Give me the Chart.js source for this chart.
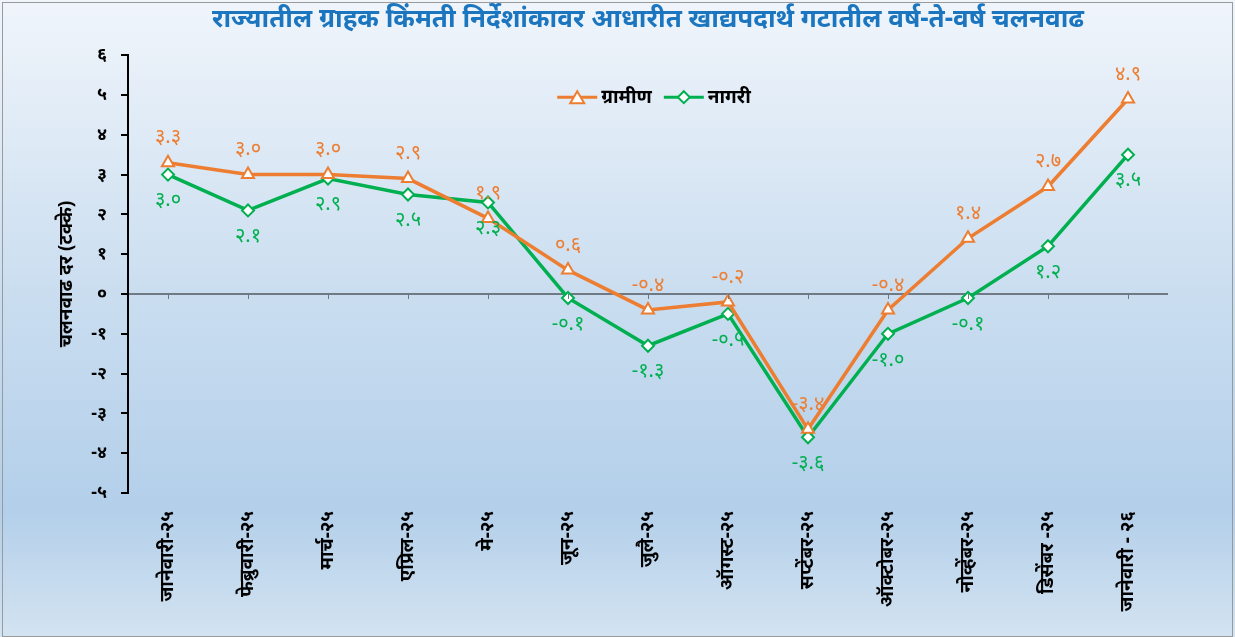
<!DOCTYPE html>
<html>
<head>
<meta charset="utf-8">
<script src="https://cdn.jsdelivr.net/npm/chart.js@4.4.1/dist/chart.umd.min.js"></script>
<style>
body { margin: 0; background: #fff; }
#wrap { width: 1235px; height: 637px; }
</style>
</head>
<body>
<div id="wrap"><canvas id="lineChart"></canvas></div>
<script>
const months = ['जानेवारी-२५', 'फेब्रुवारी-२५', 'मार्च-२५', 'एप्रिल-२५', 'मे-२५', 'जून-२५', 'जुलै-२५',
    'ऑगस्ट-२५', 'सप्टेंबर-२५', 'ऑक्टोबर-२५', 'नोव्हेंबर-२५', 'डिसेंबर -२५', 'जानेवारी - २६'];
const rural = [3.3, 3.0, 3.0, 2.9, 1.9, 0.6, -0.4, -0.2, -3.4, -0.4, 1.4, 2.7, 4.9];
const urban = [3.0, 2.1, 2.9, 2.5, 2.3, -0.1, -1.3, -0.5, -3.6, -1.0, -0.1, 1.2, 3.5];
const seriesNames = ['ग्रामीण', 'नागरी'];
const yMin = -5;
const yMax = 6;

const chartTitle = 'राज्यातील ग्राहक किंमती निर्देशांकावर आधारीत खाद्यपदार्थ गटातील वर्ष-ते-वर्ष चलनवाढ';
const yTitle = 'चलनवाढ दर (टक्के)';

const FONT = '"Noto Sans", "Noto Sans Devanagari", "Lohit Devanagari", sans-serif';
const ORANGE = '#ed7d31';
const GREEN = '#00b050';

const devaDigits = '०१२३४५६७८९';
function toDeva(str)
{
    return String(str).replace(/[0-9]/g, d => devaDigits[d]);
}

// background gradient + thin frame
const background = {
    id: 'background',
    beforeDraw(chart) {
        const ctx = chart.ctx;
        const g = ctx.createLinearGradient(0, 0, 0, chart.height);
        g.addColorStop(0, '#f0f5fb');
        g.addColorStop(0.45, '#cbdef0');
        g.addColorStop(0.8, '#b3cfea');
        g.addColorStop(1, '#d3e3f1');
        ctx.save();
        ctx.fillStyle = g;
        ctx.fillRect(0, 0, chart.width, chart.height);
        ctx.strokeStyle = '#9a9a9a';
        ctx.lineWidth = 1;
        ctx.strokeRect(2.5, 2.5, chart.width - 5, chart.height - 3);
        ctx.restore();
    }
};

// small ticks hanging off the zero line
const zeroTicks = {
    id: 'zeroTicks',
    afterDraw(chart) {
        const ctx = chart.ctx;
        const x = chart.scales.x;
        const y0 = chart.scales.y.getPixelForValue(0);
        ctx.save();
        ctx.strokeStyle = '#6f7780';
        ctx.lineWidth = 1;
        for (let i = 0; i < months.length; i++) {
            const px = Math.round(x.getPixelForValue(i)) + 0.5;
            ctx.beginPath();
            ctx.moveTo(px, y0);
            ctx.lineTo(px, y0 + 5);
            ctx.stroke();
        }
        ctx.restore();
    }
};

// value labels: rural above, urban below
const pointLabels = {
    id: 'pointLabels',
    afterDatasetsDraw(chart) {
        const ctx = chart.ctx;
        chart.data.datasets.forEach((ds, i) => {
            const meta = chart.getDatasetMeta(i);
            const above = i === 0;
            ctx.save();
            ctx.font = '20px ' + FONT;
            ctx.fillStyle = ds.borderColor;
            ctx.textAlign = 'center';
            ctx.textBaseline = 'middle';
            meta.data.forEach((pt, j) => {
                ctx.fillText(toDeva(ds.data[j].toFixed(1)), pt.x, above ? pt.y - 25 : pt.y + 26);
            });
            ctx.restore();
        });
    }
};

// legend drawn inside the plot, centred near the top
const innerLegend = {
    id: 'innerLegend',
    afterDraw(chart) {
        const ctx = chart.ctx;
        const area = chart.chartArea;
        const lineW = 40;
        const gap = 12;
        ctx.save();
        ctx.font = 'bold 19px ' + FONT;
        const widths = chart.data.datasets.map(ds => lineW + 4 + ctx.measureText(ds.label).width);
        const total = widths.reduce((a, b) => a + b, 0) + gap;
        let x = (area.left + area.right) / 2 - total / 2 + 6;
        const y = area.top + 42;
        chart.data.datasets.forEach((ds, i) => {
            ctx.strokeStyle = ds.borderColor;
            ctx.lineWidth = 3;
            ctx.beginPath();
            ctx.moveTo(x, y);
            ctx.lineTo(x + lineW, y);
            ctx.stroke();
            const cx = x + lineW / 2;
            ctx.fillStyle = '#fff';
            ctx.lineWidth = 2;
            ctx.beginPath();
            if (ds.pointStyle === 'triangle') {
                ctx.moveTo(cx, y - 6); ctx.lineTo(cx + 7, y + 6); ctx.lineTo(cx - 7, y + 6);
            } else {
                ctx.moveTo(cx, y - 6); ctx.lineTo(cx + 6, y); ctx.lineTo(cx, y + 6); ctx.lineTo(cx - 6, y);
            }
            ctx.closePath();
            ctx.fill();
            ctx.stroke();
            ctx.fillStyle = '#000';
            ctx.textBaseline = 'middle';
            ctx.fillText(ds.label, x + lineW + 4, y);
            x += widths[i] + gap;
        });
        ctx.restore();
    }
};

const line = document.getElementById('lineChart');
new Chart(line, {
    type: 'line',
    data: {
        labels: months,
        datasets: [{
            label: seriesNames[0],
            data: rural,
            borderColor: ORANGE,
            backgroundColor: '#fff',
            borderWidth: 3.5,
            pointStyle: 'triangle',
            pointRadius: 7,
            pointBorderWidth: 2,
            tension: 0,
        },
        {
            label: seriesNames[1],
            data: urban,
            borderColor: GREEN,
            backgroundColor: '#fff',
            borderWidth: 3.5,
            pointStyle: 'rectRot',
            pointRadius: 6,
            pointBorderWidth: 2,
            tension: 0,
        }]
    },
    options: {
        responsive: true,
        maintainAspectRatio: false,
        animation: false,
        layout: { padding: { left: 2, right: 67, bottom: 0, top: 4 } },
        plugins: {
            legend: { display: false },
            tooltip: { enabled: false },
            title: {
                display: true,
                fullSize: false,
                text: chartTitle,
                color: '#1b76bf',
                font: { family: FONT, size: 26, weight: 'bold' },
                padding: { top: 0, bottom: 20 }
            }
        },
        scales: {
            y: {
                min: yMin,
                max: yMax,
                afterFit: scale => { scale.width = 126; },
                ticks: {
                    stepSize: 1,
                    color: '#000',
                    font: { family: FONT, size: 18, weight: 'bold' },
                    padding: 14,
                    callback: v => toDeva(v)
                },
                grid: {
                    color: c => c.tick && c.tick.value === 0 ? '#707a85' : 'transparent',
                    lineWidth: 2,
                    tickColor: '#000',
                    tickLength: 7
                },
                border: { display: true, color: '#000', width: 2 },
                title: {
                    display: true,
                    text: yTitle,
                    color: '#000',
                    font: { family: FONT, size: 19, weight: 'bold' },
                    padding: { top: 53 }
                }
            },
            x: {
                offset: true,
                afterFit: scale => { scale.height = 144; },
                grid: { display: false },
                border: { display: false },
                ticks: {
                    autoSkip: false,
                    minRotation: 90,
                    maxRotation: 90,
                    color: '#000',
                    padding: 10,
                    font: { family: FONT, size: 19, weight: 'bold' }
                }
            }
        }
    },
    plugins: [background, zeroTicks, pointLabels, innerLegend]
});
</script>
</body>
</html>
